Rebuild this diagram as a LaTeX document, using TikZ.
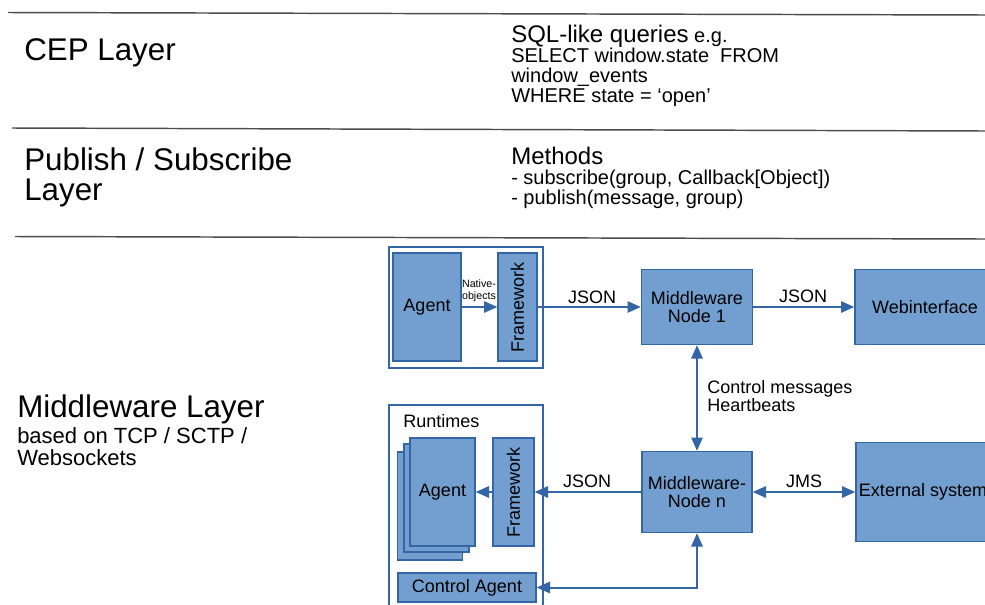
\documentclass[tikz,border=0pt]{standalone}
\usepackage{fontspec}
\setmainfont{Liberation Sans}
\usepackage{graphicx}
\usetikzlibrary{arrows.meta}

\definecolor{boxfill}{RGB}{114,159,207}
\definecolor{boxline}{RGB}{52,101,164}

\tikzset{
  blockbox/.style={draw=boxline, fill=boxfill, line width=1pt, inner sep=0pt, align=center, font=\fontsize{13.5}{13}\selectfont},
  hostframe/.style={draw=boxline, fill=white, line width=0.9pt, inner sep=0pt},
  link/.style={draw=boxline, line width=1.5pt, -{Triangle[length=10pt,width=8.5pt]}},
  duplex/.style={link, {Triangle[length=10pt,width=8.5pt]}-{Triangle[length=10pt,width=8.5pt]}},
  layerrule/.style={draw=black!70, line width=1.1pt},
  tag/.style={inner sep=0pt, font=\fontsize{13.5}{13.5}\selectfont}
}

\begin{document}
\begin{tikzpicture}[x=0.75pt,y=0.75pt,yscale=-1,xscale=1]
\useasboundingbox (0,0) rectangle (985,604);

%Straight Lines
\draw [layerrule] (8,12.5) -- (985,15);
%Straight Lines
\draw [layerrule] (12,128) -- (985,131);
%Straight Lines
\draw [layerrule] (15,236.5) -- (985,239);

% Text Node
\node [anchor=base west, inner sep=0pt, font=\fontsize{23.5}{23}\selectfont] (ceplayer) at (24,60) {CEP Layer};
% Text Node
\node [anchor=base west, inner sep=0pt, align=left, font=\fontsize{23.5}{22.5}\selectfont] (pslayer) at (24,200) {Publish / Subscribe\\Layer};
% Text Node
\node [anchor=base west, inner sep=0pt, align=left, font=\fontsize{16.5}{16}\selectfont] (mwlayer) at (17,465) {{\fontsize{23.5}{23}\selectfont Middleware Layer}\\[2pt]based on TCP / SCTP /\\Websockets};
% Text Node
\node [anchor=base west, inner sep=0pt, align=left, font=\fontsize{15}{15}\selectfont] (cepquery) at (511,102) {{\fontsize{18}{15}\selectfont SQL-like queries} e.g.\\SELECT window.state~ FROM\\window\_events\\WHERE state = ‘open’};
% Text Node
\node [anchor=base west, inner sep=0pt, align=left, font=\fontsize{15}{15}\selectfont] (psmethods) at (511,204) {{\fontsize{18}{15}\selectfont Methods}\\- subscribe(group, Callback[Object])\\- publish(message, group)};

%Shape: Rectangle
\node [hostframe, minimum width=115.5pt, minimum height=90.75pt] (host1) at (466,307.5) {};
%Shape: Rectangle
\node [blockbox, minimum width=51pt, minimum height=81pt] (agent1) at (427,307) {Agent};
%Shape: Rectangle
\node [blockbox, minimum width=29.25pt, minimum height=81pt] (fw1) at (517.5,307) {\rotatebox{90}{Framework}};
%Shape: Rectangle
\node [blockbox, minimum width=83.25pt, minimum height=56.25pt] (mw1) at (697,307) {Middleware\\Node 1};
%Shape: Rectangle
\node [blockbox, minimum width=105pt, minimum height=56.25pt] (web) at (925,307) {Webinterface};

%Shape: Rectangle
\node [hostframe, minimum width=115.5pt, minimum height=161.25pt] (host2) at (466,512.5) {};
% Text Node
\node [tag, anchor=west] (runtimes) at (403,421) {Runtimes};
%Shape: Rectangle
\node [blockbox, minimum width=48.75pt, minimum height=81pt] (agent4) at (430,506) {Agent};
%Shape: Rectangle
\node [blockbox, minimum width=48.75pt, minimum height=81pt] (agent3) at (436.5,498) {Agent};
%Shape: Rectangle
\node [blockbox, minimum width=48.75pt, minimum height=81pt] (agent2) at (442.5,492) {Agent};
%Shape: Rectangle
\node [blockbox, minimum width=30.75pt, minimum height=81pt] (fw2) at (513.5,492) {\rotatebox{90}{Framework}};
%Shape: Rectangle
\node [blockbox, minimum width=103.5pt, minimum height=21.75pt] (ctrl) at (467,587.5) {Control Agent};
%Shape: Rectangle
\node [blockbox, minimum width=82.5pt, minimum height=60.75pt] (mwn) at (697,492) {Middleware-\\Node n};
%Shape: Rectangle
\node [blockbox, minimum width=100.5pt, minimum height=74.25pt] (ext) at (923,492) {External system};

%Straight Lines
\draw [link] (agent1) -- (fw1);
\draw [link] (fw1) -- (mw1);
\draw [link] (mw1) -- (web);
\draw [duplex] (mw1) -- (mwn);
\draw [duplex] (mwn) -- (ext);
\draw [link] (mwn) -- (fw2);
\draw [link] (fw2) -- (agent2);
\draw [duplex] (ctrl) -| (mwn);

% Text Node
\node [inner sep=0pt, align=center, font=\fontsize{8}{9}\selectfont] (native) at (479,291) {Native-\\objects};
% Text Node
\node [tag] (json1) at (592,297) {JSON};
% Text Node
\node [tag] (json2) at (803,296.5) {JSON};
% Text Node
\node [tag] (json3) at (587,481) {JSON};
% Text Node
\node [tag] (jms) at (804,481) {JMS};
% Text Node
\node [tag, anchor=west, align=left] (ctrlmsg) at (707,396) {Control messages\\Heartbeats};
\end{tikzpicture}
\end{document}
